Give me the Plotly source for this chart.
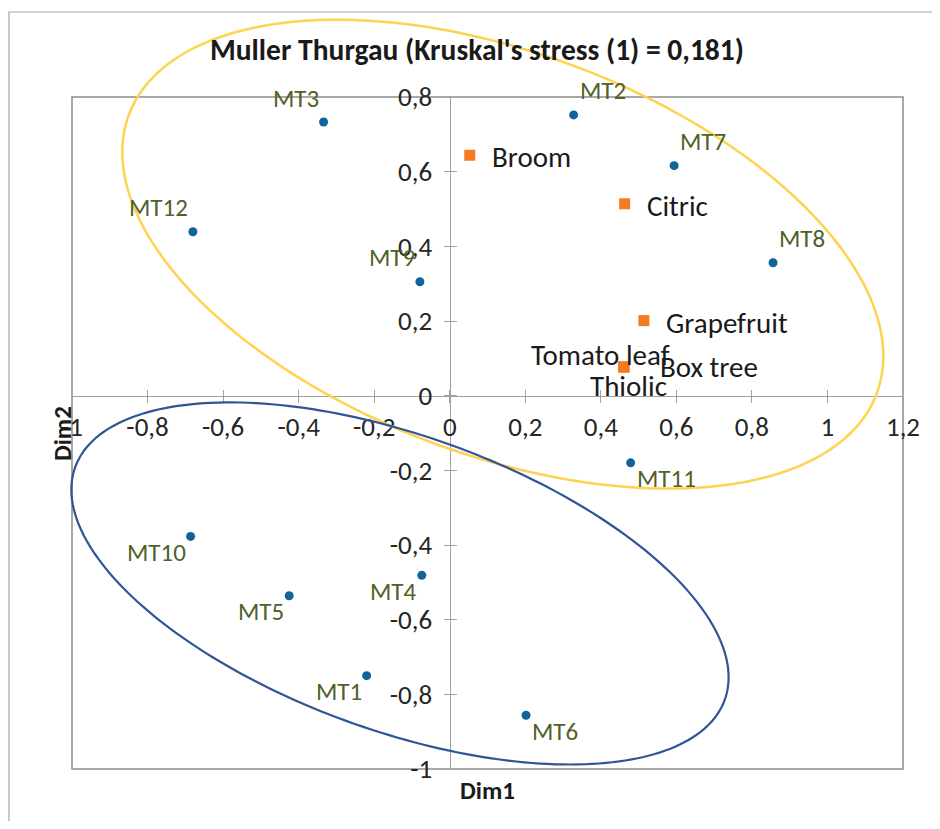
import numpy as np
import plotly.graph_objects as go

# ---------------- data ----------------
title_text = "Muller Thurgau (Kruskal's stress (1) = 0,181)"
x_title = "Dim1"
y_title = "Dim2"

sample_names = ["MT1", "MT2", "MT3", "MT4", "MT5", "MT6",
                "MT7", "MT8", "MT9", "MT10", "MT11", "MT12"]
sample_dim1 = [-0.220, 0.328, -0.334, -0.074, -0.425, 0.202,
               0.594, 0.856, -0.079, -0.686, 0.479, -0.680]
sample_dim2 = [-0.750, 0.752, 0.733, -0.481, -0.536, -0.856,
               0.616, 0.356, 0.305, -0.377, -0.180, 0.439]

attr_names = ["Broom", "Citric", "Grapefruit", "Tomato leaf", "Box tree", "Thiolic"]
attr_dim1 = [0.053, 0.463, 0.514, 0.461, 0.461, 0.461]
attr_dim2 = [0.644, 0.514, 0.201, 0.077, 0.077, 0.077]

x_tick_vals = [-1, -0.8, -0.6, -0.4, -0.2, 0, 0.2, 0.4, 0.6, 0.8, 1, 1.2]
x_tick_text = ["-1", "-0,8", "-0,6", "-0,4", "-0,2", "0", "0,2", "0,4", "0,6", "0,8", "1", "1,2"]
y_tick_vals = [-1, -0.8, -0.6, -0.4, -0.2, 0, 0.2, 0.4, 0.6, 0.8]
y_tick_text = ["-1", "-0,8", "-0,6", "-0,4", "-0,2", "0", "0,2", "0,4", "0,6", "0,8"]

x_range = [-1, 1.2]
y_range = [-1, 0.8]

# ---------------- styles ----------------
FONT = "Calibri, Carlito, Lato, sans-serif"
AXIS_COLOR = "#A0A0A0"
BORDER_COLOR = "#8C8C8C"
DOT_COLOR = "#11649A"
SQUARE_COLOR = "#F47B20"
LABEL_GREEN = "#4F6228"

# figure geometry (page body has an 8px margin)
FIG_W, FIG_H = 924, 813
M_L, M_R, M_T, M_B = 64, 23, 89, 52
PLOT_W = FIG_W - M_L - M_R
PLOT_H = FIG_H - M_T - M_B

# label placement for sample labels: (xanchor, xshift, yshift)
sample_label_pos = {
    "MT1": ("right", -3, -16), "MT2": ("left", 4, 24), "MT3": ("right", -3, 24),
    "MT4": ("right", -3, -16), "MT5": ("right", -3, -16), "MT6": ("left", 4, -16),
    "MT7": ("left", 4, 24), "MT8": ("left", 4, 24), "MT9": ("right", -3, 24),
    "MT10": ("right", -3, -16), "MT11": ("left", 4, -16), "MT12": ("right", -3, 24),
}
attr_label_pos = {
    "Broom": ("left", 20, -2), "Citric": ("left", 20, -2), "Grapefruit": ("left", 20, -2),
    "Tomato leaf": ("center", -23, 12), "Box tree": ("left", 34, 0), "Thiolic": ("center", 5, -19),
}

fig = go.Figure()

fig.add_trace(go.Scatter(
    x=sample_dim1, y=sample_dim2, mode="markers", name="Samples",
    marker=dict(color=DOT_COLOR, size=9, symbol="circle"),
    hoverinfo="text", text=sample_names,
))
fig.add_trace(go.Scatter(
    x=attr_dim1, y=attr_dim2, mode="markers", name="Attributes",
    marker=dict(color=SQUARE_COLOR, size=11, symbol="square"),
    hoverinfo="text", text=attr_names,
))
# empty trace to activate overlay axes (for cross tick marks)
fig.add_trace(go.Scatter(x=[], y=[], xaxis="x2", yaxis="y2", showlegend=False,
                         hoverinfo="skip"))

annotations = []
for n, xv, yv in zip(sample_names, sample_dim1, sample_dim2):
    anc, xs, ys = sample_label_pos[n]
    annotations.append(dict(x=xv, y=yv, xref="x", yref="y", text=n, showarrow=False,
                            xanchor=anc, yanchor="middle", xshift=xs, yshift=ys,
                            font=dict(family=FONT, size=25, color=LABEL_GREEN)))
for n, xv, yv in zip(attr_names, attr_dim1, attr_dim2):
    anc, xs, ys = attr_label_pos[n]
    annotations.append(dict(x=xv, y=yv, xref="x", yref="y", text=n, showarrow=False,
                            xanchor=anc, yanchor="middle", xshift=xs, yshift=ys,
                            font=dict(family=FONT, size=29, color="#1A1A1A")))


def px_to_paper(px, py):
    """page pixel -> paper coords"""
    return (px - 8 - M_L) / PLOT_W, (FIG_H - M_B + 8 - py) / PLOT_H


tx, ty = px_to_paper(480, 50)
annotations.append(dict(x=tx, y=ty, xref="paper", yref="paper", text="<b>%s</b>" % title_text,
                        showarrow=False, xanchor="center", yanchor="middle",
                        font=dict(family=FONT, size=29.5, color="#1A1A1A")))
tx, ty = px_to_paper(490, 790)
annotations.append(dict(x=tx, y=ty, xref="paper", yref="paper", text="<b>%s</b>" % x_title,
                        showarrow=False, xanchor="center", yanchor="middle",
                        font=dict(family=FONT, size=25, color="#1A1A1A")))
tx, ty = px_to_paper(62, 434)
annotations.append(dict(x=tx, y=ty, xref="paper", yref="paper", text="<b>%s</b>" % y_title,
                        showarrow=False, xanchor="center", yanchor="middle", textangle=-90,
                        font=dict(family=FONT, size=25, color="#1A1A1A")))


def to_paper(xd, yd):
    px = (np.asarray(xd) - x_range[0]) / (x_range[1] - x_range[0])
    py = (np.asarray(yd) - y_range[0]) / (y_range[1] - y_range[0])
    return px, py


def ellipse_path(cx, cy, w, h, phi_deg, n=240):
    t = np.linspace(0, 2 * np.pi, n)
    phi = np.deg2rad(phi_deg)
    xd = cx + w * np.cos(t)
    yd = cy - h * np.cos(t - phi)
    px, py = to_paper(xd, yd)
    pts = ["%s%.5f,%.5f" % ("M" if i == 0 else "L", a, b) for i, (a, b) in enumerate(zip(px, py))]
    return " ".join(pts) + " Z"


ox0, oy1 = px_to_paper(8.5, 12)
shapes = [
    # outer chart frame
    dict(type="rect", xref="paper", yref="paper", x0=ox0, y0=-0.3, x1=1.3, y1=oy1,
         line=dict(color="#A6A6A6", width=1.2), layer="below"),
    # plot area frame
    dict(type="rect", xref="paper", yref="paper", x0=0, y0=0, x1=1, y1=1,
         line=dict(color=BORDER_COLOR, width=1.5), layer="below"),
    # group ellipses
    dict(type="path", xref="paper", yref="paper",
         path=ellipse_path(0.1405, 0.379, 1.0074, 0.628, 64.2),
         line=dict(color="#FFD24F", width=2.5)),
    dict(type="path", xref="paper", yref="paper",
         path=ellipse_path(-0.1317, -0.503, 0.870, 0.485, 58.8),
         line=dict(color="#2F5597", width=2.2)),
]

x_pos = (0 - y_range[0]) / (y_range[1] - y_range[0])
y_pos = (0 - x_range[0]) / (x_range[1] - x_range[0])

tick_font = dict(family=FONT, size=27, color="#262626")

fig.update_layout(
    width=FIG_W, height=FIG_H,
    margin=dict(l=M_L, r=M_R, t=M_T, b=M_B),
    paper_bgcolor="white", plot_bgcolor="white",
    showlegend=False,
    annotations=annotations,
    shapes=shapes,
    xaxis=dict(range=x_range, anchor="free", position=x_pos, showgrid=False, zeroline=False,
               showline=True, linecolor=AXIS_COLOR, linewidth=1.3,
               ticks="outside", ticklen=6, tickcolor=AXIS_COLOR, tickwidth=1.3,
               tickmode="array", tickvals=x_tick_vals, ticktext=x_tick_text,
               tickfont=tick_font, ticklabelstandoff=1),
    yaxis=dict(range=y_range, anchor="free", position=y_pos, showgrid=False, zeroline=False,
               showline=True, linecolor=AXIS_COLOR, linewidth=1.3,
               ticks="outside", ticklen=6, tickcolor=AXIS_COLOR, tickwidth=1.3,
               tickmode="array", tickvals=y_tick_vals, ticktext=y_tick_text,
               tickfont=tick_font, ticklabelstandoff=6),
    xaxis2=dict(range=x_range, overlaying="x", anchor="free", position=x_pos, showgrid=False,
                zeroline=False, showline=False, ticks="inside", ticklen=6, tickcolor=AXIS_COLOR,
                tickwidth=1.3, tickmode="array", tickvals=x_tick_vals, showticklabels=False),
    yaxis2=dict(range=y_range, overlaying="y", anchor="free", position=y_pos, showgrid=False,
                zeroline=False, showline=False, ticks="inside", ticklen=6, tickcolor=AXIS_COLOR,
                tickwidth=1.3, tickmode="array", tickvals=y_tick_vals, showticklabels=False),
)

fig.write_html("out.html")
